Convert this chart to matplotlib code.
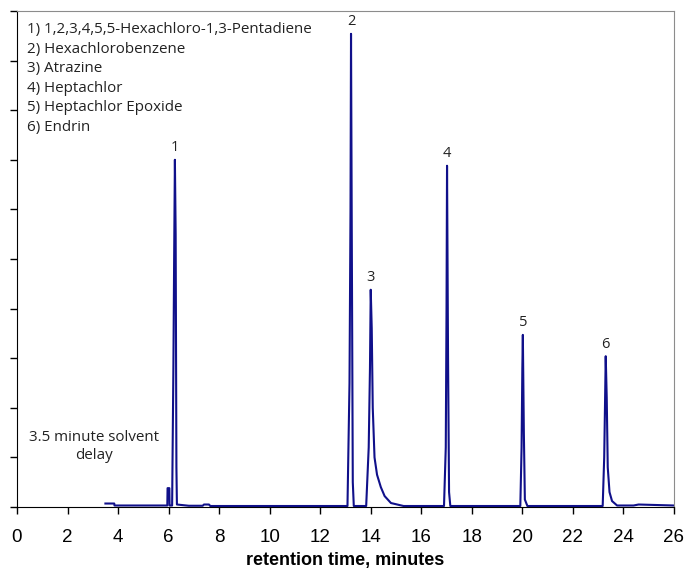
import matplotlib
matplotlib.use("Agg")
import matplotlib.pyplot as plt

# chromatogram trace, vertices (time in minutes, relative signal)
trace_time = [3.50, 3.85, 3.86, 5.95, 5.96, 6.03, 6.04, 6.14, 6.19, 6.22, 6.25, 6.28, 6.31, 6.33,
              6.80, 7.35, 7.40, 7.60, 7.65, 13.08, 13.16, 13.20, 13.22, 13.25, 13.29, 13.33,
              13.82, 13.92, 13.97, 14.00, 14.04, 14.08, 14.15, 14.25, 14.40, 14.55, 14.80, 15.30,
              16.90, 16.97, 17.00, 17.02, 17.06, 17.10, 17.15, 19.92, 19.97, 20.00, 20.02, 20.06,
              20.10, 20.20, 23.18, 23.24, 23.27, 23.30, 23.34, 23.38, 23.45, 23.55, 23.75, 24.40,
              24.60, 26.00]
trace_signal = [0.7, 0.7, 0.3, 0.3, 3.8, 3.8, 0.3, 0.3, 28.0, 50.0, 70.0, 55.0, 8.0, 0.5,
                0.25, 0.25, 0.5, 0.5, 0.2, 0.2, 25.0, 60.0, 95.4, 55.0, 5.0, 0.2,
                0.2, 12.0, 28.0, 43.8, 36.0, 20.0, 10.0, 6.5, 4.0, 2.2, 0.8, 0.2,
                0.2, 12.0, 40.0, 68.8, 30.0, 3.0, 0.2, 0.2, 12.0, 28.0, 34.7, 15.0,
                1.5, 0.2, 0.2, 10.0, 20.0, 30.4, 22.0, 8.0, 3.0, 1.2, 0.3, 0.3,
                0.5, 0.3]

peak_labels = ["1", "2", "3", "4", "5", "6"]
peak_times = [6.25, 13.22, 14.00, 17.02, 20.02, 23.30]
peak_heights = [70.0, 95.4, 43.8, 68.8, 34.7, 30.4]

compounds = ["1) 1,2,3,4,5,5-Hexachloro-1,3-Pentadiene",
             "2) Hexachlorobenzene",
             "3) Atrazine",
             "4) Heptachlor",
             "5) Heptachlor Epoxide",
             "6) Endrin"]

x_ticks = list(range(0, 27, 2))
y_ticks = list(range(0, 101, 10))

fig = plt.figure(figsize=(6.87, 5.76), dpi=100)
ax = fig.add_axes([0.0247, 0.1198, 0.9563, 0.8611])

ax.plot(trace_time, trace_signal, color="#10108a", lw=1.5)

for lab, t, h in zip(peak_labels, peak_times, peak_heights):
    ax.text(t, h + 0.9, lab, ha="center", va="bottom", fontsize=10.5,
            family="Open Sans", color="#222222")

for i, c in enumerate(compounds):
    ax.text(0.015, 0.962 - i * 0.0393, c, transform=ax.transAxes, ha="left", va="center",
            fontsize=10.9, family="Open Sans", color="#222222")

ax.text(3.05, 12.2, "3.5 minute solvent\ndelay", ha="center", va="center", fontsize=10.9,
        family="Open Sans", color="#222222", linespacing=1.25)

ax.set_xlim(0, 26)
ax.set_ylim(0, 100)
ax.set_xticks(x_ticks)
ax.set_xticklabels([str(v) for v in x_ticks], family="Liberation Sans", fontsize=13.5)
ax.set_yticks(y_ticks)
ax.set_yticklabels([])
ax.tick_params(axis="x", direction="out", length=5, width=1, pad=11)
ax.tick_params(axis="y", direction="out", length=5, width=1)
ax.set_xlabel("retention time, minutes", family="Liberation Sans", fontsize=13,
              fontweight="bold", labelpad=4)

for side in ["top", "right"]:
    ax.spines[side].set_color("#8c8c8c")
for side in ["left", "bottom"]:
    ax.spines[side].set_color("black")

fig.savefig("out.png", dpi=100)
